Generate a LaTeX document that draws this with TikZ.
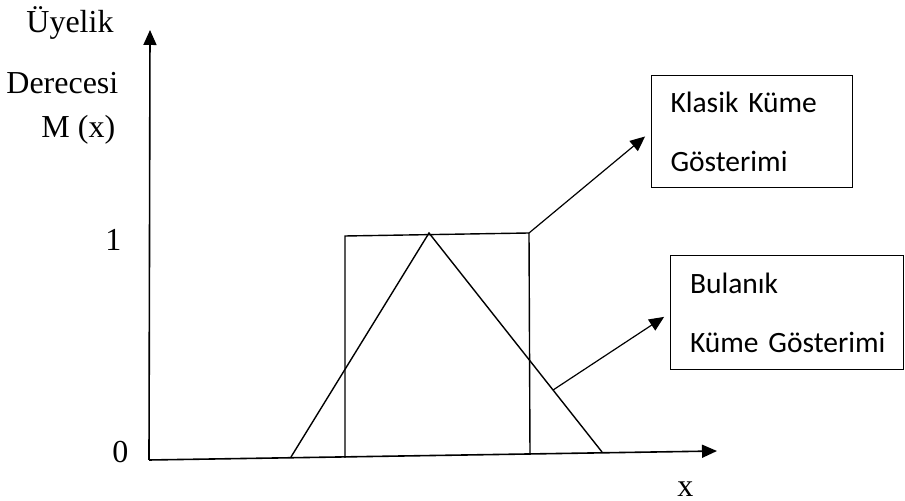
\documentclass[tikz,border=0pt]{standalone}
\usepackage{fontspec}
\setmainfont{Liberation Serif}
\newfontfamily\calibri{Carlito}
\usetikzlibrary{arrows.meta,calc}

\begin{document}
\begin{tikzpicture}[x=0.5pt,y=-0.5pt,
    axis/.style={line width=0.8pt,-{Triangle[length=7.5pt,width=6.5pt]}},
    setline/.style={line width=0.7pt},
    pointer/.style={line width=0.6pt,shorten >=3.5pt,-{Triangle[length=7.5pt,width=6.5pt]}},
    lbl/.style={anchor=base west,inner sep=0pt,font=\fontsize{16}{19}\selectfont},
    setbox/.style={draw,line width=0.5pt,align=left,inner xsep=9.75pt,
        font=\calibri\fontsize{14.75}{29.5}\selectfont}]
    \useasboundingbox (0,0) rectangle (905,501);
    % axes
    \coordinate (O) at (149,460);
    \coordinate (ytop) at (150,30);
    \coordinate (xend) at (717,451);
    \draw[axis] (O) -- (ytop);
    \draw[axis] (O) -- (xend);
    % labels
    \node[lbl] (uyelik) at (26,33) {Üyelik};
    \node[lbl] (derece) at (6,94) {Derecesi};
    \node[lbl] (mx) at (41,138) {M (x)};
    \node[lbl] (one) at (105,251) {1};
    \node[lbl] (zero) at (112,463) {0};
    \node[lbl] (xlbl) at (677,497) {x};
    % crisp set
    \coordinate (r1) at (345,458);
    \coordinate (r2) at (345,236);
    \coordinate (r3) at (529,233);
    \coordinate (r4) at (530,455);
    \draw[setline] (r1) -- (r2) -- (r3) -- (r4);
    % fuzzy set
    \coordinate (t1) at (291,457);
    \coordinate (t2) at (429,233);
    \coordinate (t3) at (602,452);
    \draw[setline] (t1) -- (t2) -- (t3);
    \coordinate (tmid) at ($(t2)!0.717!(t3)$);
    % boxes
    \node[setbox,text width=81pt,minimum height=56pt] (klasik) at (751.5,132) {\mbox{Klasik Küme}\\\mbox{Gösterimi}};
    \node[setbox,text width=97pt,minimum height=57pt] (bulanik) at (787,313) {\mbox{Bulanık}\\\mbox{Küme Gösterimi}};
    % arrows
    \draw[pointer] (r3) -- (klasik.west);
    \draw[pointer] (tmid) -- (bulanik.west);
\end{tikzpicture}
\end{document}
